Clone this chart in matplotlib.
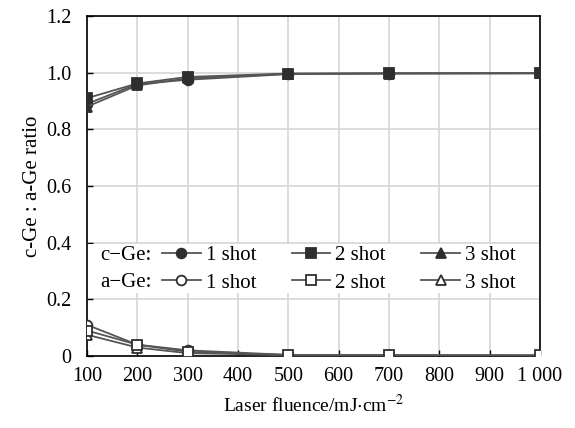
import matplotlib
matplotlib.use("Agg")
import matplotlib.pyplot as plt
from matplotlib.lines import Line2D
from matplotlib.patches import Rectangle

plt.rcParams['font.family'] = ['Liberation Serif', 'DejaVu Serif']
plt.rcParams['mathtext.fontset'] = 'stix'

# fluence values (mJ/cm^2)
fluence = [100, 200, 300, 500, 700, 1000]

# c-Ge fraction
c_1shot = [0.89, 0.960, 0.975, 0.995, 0.997, 0.998]
c_2shot = [0.91, 0.962, 0.985, 0.997, 0.998, 0.998]
c_3shot = [0.88, 0.955, 0.980, 0.996, 0.997, 0.998]

# a-Ge fraction
a_1shot = [0.11, 0.040, 0.020, 0.004, 0.003, 0.002]
a_2shot = [0.09, 0.040, 0.015, 0.003, 0.002, 0.002]
a_3shot = [0.075, 0.030, 0.010, 0.004, 0.003, 0.002]

xticks = [100, 200, 300, 400, 500, 600, 700, 800, 900, 1000]
xticklabels = ["100", "200", "300", "400", "500", "600", "700", "800", "900", "1 000"]
yticks = [0, 0.2, 0.4, 0.6, 0.8, 1.0, 1.2]
yticklabels = ["0", "0.2", "0.4", "0.6", "0.8", "1.0", "1.2"]

line_col = "#555555"
mk_col = "#2e2e2e"

fig = plt.figure(figsize=(5.75, 4.28), dpi=100)
ax = fig.add_axes([0.1513, 0.1682, 0.7878, 0.7944])

series = [
    (c_1shot, "o", mk_col),
    (c_3shot, "^", mk_col),
    (c_2shot, "s", mk_col),
    (a_1shot, "o", "white"),
    (a_3shot, "^", "white"),
    (a_2shot, "s", "white"),
]
for y, m, fc in series:
    ax.plot(fluence, y, color=line_col, lw=1.3, marker=m, ms=7,
            mfc=fc, mec=mk_col, mew=1.3, zorder=3)

ax.set_xlim(100, 1000)
ax.set_ylim(0, 1.2)
ax.set_xticks(xticks)
ax.set_xticklabels(xticklabels)
ax.set_yticks(yticks)
ax.set_yticklabels(yticklabels)
ax.tick_params(direction="in", length=4, width=1, labelsize=14.5)
ax.tick_params(axis="x", pad=8)
ax.tick_params(axis="y", pad=11)
ax.grid(True, color="#d6d6d6", lw=1.2)
ax.set_axisbelow(True)
for s in ax.spines.values():
    s.set_linewidth(1.2)
    s.set_color("black")

ax.set_xlabel(r"Laser fluence/mJ$\cdot$cm$^{-2}$", fontsize=14, labelpad=6)
ax.set_ylabel("c-Ge : a-Ge ratio", fontsize=15, labelpad=3)

# white band behind the legend
ax.add_patch(Rectangle((0, 0.185), 1, 0.143, transform=ax.transAxes,
                       facecolor="white", edgecolor="none", zorder=2))

# legend: two rows (c-Ge filled, a-Ge hollow), three columns
def handle(m, fc):
    return Line2D([], [], color=line_col, lw=1.3, marker=m, ms=7,
                  mfc=fc, mec=mk_col, mew=1.3)

handles = [handle("o", mk_col), handle("o", "white"),
           handle("s", mk_col), handle("s", "white"),
           handle("^", mk_col), handle("^", "white")]
labels = ["1 shot", "1 shot", "2 shot", "2 shot", "3 shot", "3 shot"]
leg = ax.legend(handles, labels, ncol=3, loc="center left",
                bbox_to_anchor=(0.1656, 0.256), fontsize=15,
                frameon=False, handlelength=1.85, borderaxespad=0,
                handletextpad=0.25, columnspacing=1.7, labelspacing=0.4,
                borderpad=0)
leg.set_zorder(4)
ax.text(0.0287, 0.297, "c\u2212Ge:", transform=ax.transAxes, fontsize=15,
        va="center", ha="left", zorder=5)
ax.text(0.0287, 0.215, "a\u2212Ge:", transform=ax.transAxes, fontsize=15,
        va="center", ha="left", zorder=5)

fig.savefig("out.png", dpi=100)
